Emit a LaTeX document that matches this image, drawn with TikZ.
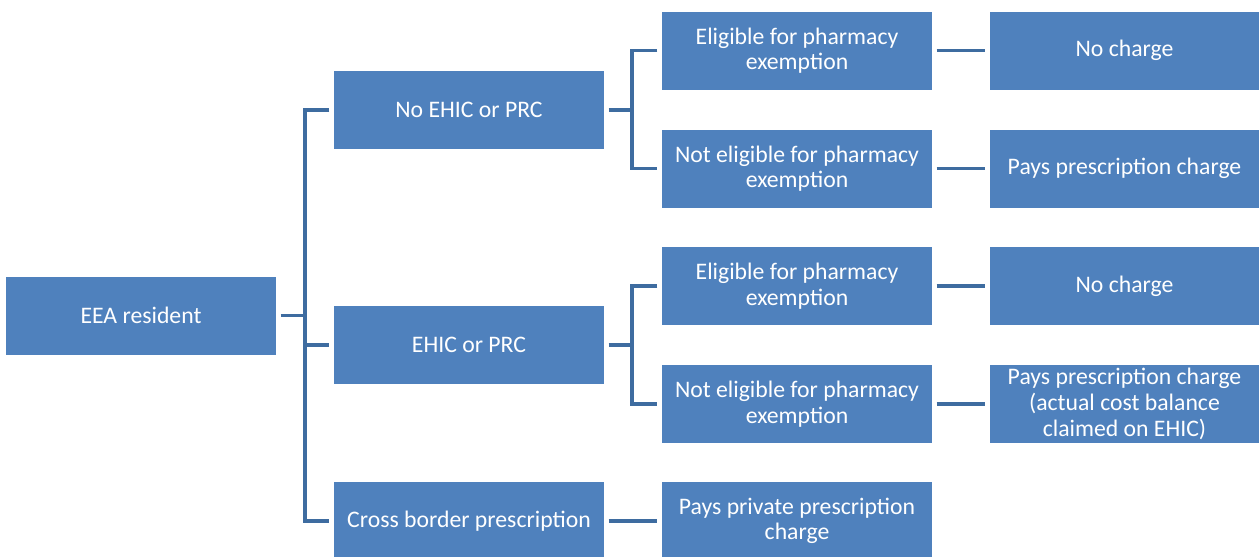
\documentclass[tikz,border=0pt]{standalone}
\usepackage{fontspec}
\setmainfont{Carlito}
\definecolor{boxblue}{RGB}{79,129,189}
\definecolor{lineblue}{RGB}{62,108,160}
\tikzset{
	stepbox/.style={fill=boxblue, text=white, align=center, inner sep=0pt,
		minimum width=5.4cm, minimum height=1.56cm,
		font=\fontsize{13.5}{14.6}\selectfont},
	link/.style={draw=lineblue, line width=2pt, shorten <=2.5pt, shorten >=2.5pt}
}
\begin{document}
\begin{tikzpicture}[x=0.02cm, y=-0.02cm]
	\useasboundingbox (0,0) rectangle (1259,556);
	% first column
	\node[stepbox] (eea) at (141,315.5) {EEA resident};
	% second column
	\node[stepbox] (noehic) at (469,110) {No EHIC or PRC};
	\node[stepbox] (ehic) at (469,345) {EHIC or PRC};
	\node[stepbox] (cross) at (469,521) {Cross border prescription};
	% third column
	\node[stepbox] (elig1) at (797,50.5) {Eligible for pharmacy\\exemption};
	\node[stepbox] (nelig1) at (797,168.5) {Not eligible for pharmacy\\exemption};
	\node[stepbox] (elig2) at (797,286) {Eligible for pharmacy\\exemption};
	\node[stepbox] (nelig2) at (797,404) {Not eligible for pharmacy\\exemption};
	\node[stepbox] (private) at (797,521) {Pays private prescription\\charge};
	% fourth column
	\node[stepbox] (free1) at (1124.5,50.5) {No charge};
	\node[stepbox] (pays1) at (1124.5,168.5) {Pays prescription charge};
	\node[stepbox] (free2) at (1124.5,286) {No charge};
	\node[stepbox] (pays2) at (1124.5,404) {Pays prescription charge\\(actual cost balance\\claimed on EHIC)};
	\coordinate (ja) at (305,315.5);
	\coordinate (jb) at (632,110);
	\coordinate (jc) at (632,345);
	\draw[link, shorten >=0pt] (eea.east) -- (ja);
	\draw[link] (noehic.west) -| (ja |- cross) -- (cross.west);
	\draw[link, shorten <=0pt] (ja |- ehic) -- (ehic.west);
	\draw[link, shorten >=0pt] (noehic.east) -- (jb);
	\draw[link] (elig1.west) -| (jb |- nelig1) -- (nelig1.west);
	\draw[link, shorten >=0pt] (ehic.east) -- (jc);
	\draw[link] (elig2.west) -| (jc |- nelig2) -- (nelig2.west);
	\draw[link] (cross) -- (private);
	\draw[link] (elig1) -- (free1);
	\draw[link] (nelig1) -- (pays1);
	\draw[link] (elig2) -- (free2);
	\draw[link] (nelig2) -- (pays2);
\end{tikzpicture}
\end{document}
